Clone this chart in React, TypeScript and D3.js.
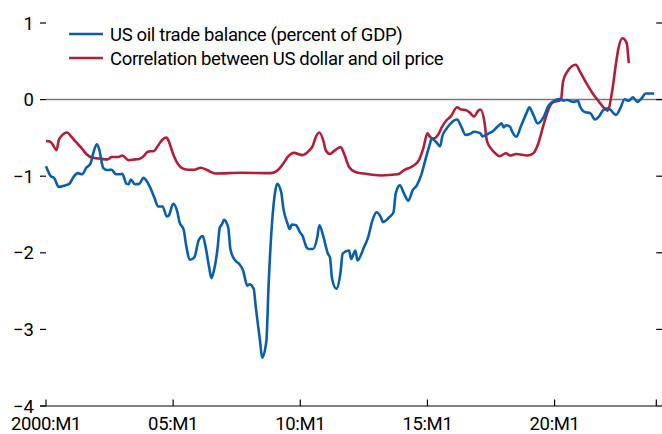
import React from "react";
import * as d3 from "d3";

const W = 662;
const H = 434;

// Months since 2000:M1
const blueMonths = [0,2,4,6,9,11,13,15,17,19,21,22,24,25,27,29,31,33,35,36,38,39,40,42,44,46,47,49,51,53,55,57,58,60,62,63,65,66,68,70,72,74,75,77,78,79,81,82,83,84,86,87,89,91,93,95,96,98,99,101,102,104,105,107,108,109,111,112,114,115,116,118,120,121,123,124,126,128,129,131,133,134,135,137,139,140,143,144,146,147,150,152,154,156,158,159,162,164,165,167,169,171,173,175,177,179,181,182,184,186,187,189,191,194,196,198,200,202,205,206,209,211,213,215,216,217,219,220,222,224,227,228,230,232,235,237,239,243,244,246,249,251,252,254,257,259,261,263,265,266,269,271,273,275,277,279,281,283,287];
const blueValues = [-0.87,-0.99,-1.03,-1.14,-1.12,-1.10,-1.01,-0.96,-0.975,-0.89,-0.835,-0.73,-0.585,-0.64,-0.89,-0.92,-0.915,-0.975,-0.975,-0.97,-1.10,-1.105,-1.045,-1.105,-1.10,-1.02,-1.045,-1.14,-1.27,-1.395,-1.395,-1.525,-1.51,-1.36,-1.47,-1.60,-1.70,-1.88,-2.09,-2.06,-1.84,-1.78,-1.88,-2.19,-2.33,-2.26,-1.93,-1.67,-1.63,-1.57,-1.67,-1.95,-2.09,-2.14,-2.23,-2.43,-2.41,-2.47,-2.71,-3.15,-3.37,-3.15,-2.45,-1.49,-1.23,-1.10,-1.21,-1.42,-1.62,-1.69,-1.63,-1.64,-1.74,-1.775,-1.93,-1.95,-1.95,-1.80,-1.64,-1.80,-2.01,-2.06,-2.34,-2.47,-2.25,-2.01,-1.97,-2.08,-1.97,-2.10,-1.93,-1.80,-1.58,-1.47,-1.535,-1.60,-1.535,-1.47,-1.23,-1.12,-1.23,-1.32,-1.185,-1.12,-0.99,-0.79,-0.595,-0.51,-0.55,-0.61,-0.48,-0.38,-0.31,-0.26,-0.355,-0.46,-0.45,-0.42,-0.44,-0.48,-0.44,-0.41,-0.355,-0.31,-0.365,-0.335,-0.355,-0.42,-0.485,-0.355,-0.16,-0.10,-0.20,-0.31,-0.22,-0.085,-0.03,0.01,-0.015,-0.005,-0.03,-0.015,-0.09,-0.16,-0.18,-0.26,-0.22,-0.135,-0.115,-0.125,-0.20,-0.115,0.005,-0.015,0.03,-0.03,0.015,0.08,0.08];

const redMonths = [0,2,3,5,6,7,10,12,14,17,19,22,25,29,31,34,36,39,42,44,46,48,51,53,55,57,58,60,62,64,67,70,73,76,80,92,106,109,112,114,117,121,124,126,127,129,131,132,134,136,139,141,143,146,150,158,166,169,173,176,178,180,181,183,185,187,189,191,194,196,198,200,202,204,205,207,208,210,212,214,217,219,222,227,230,232,235,237,239,243,244,246,250,252,255,258,261,263,265,267,269,270,272,274,275];
const redValues = [-0.54,-0.55,-0.58,-0.66,-0.53,-0.485,-0.43,-0.485,-0.55,-0.64,-0.71,-0.76,-0.77,-0.78,-0.75,-0.75,-0.73,-0.79,-0.78,-0.775,-0.74,-0.68,-0.67,-0.595,-0.52,-0.495,-0.55,-0.71,-0.83,-0.89,-0.915,-0.915,-0.89,-0.92,-0.965,-0.955,-0.96,-0.93,-0.835,-0.75,-0.695,-0.725,-0.67,-0.595,-0.51,-0.43,-0.55,-0.66,-0.71,-0.67,-0.62,-0.73,-0.88,-0.945,-0.965,-0.99,-0.975,-0.92,-0.87,-0.79,-0.64,-0.44,-0.48,-0.51,-0.46,-0.35,-0.27,-0.22,-0.10,-0.13,-0.135,-0.17,-0.22,-0.145,-0.13,-0.31,-0.53,-0.64,-0.70,-0.74,-0.70,-0.73,-0.71,-0.73,-0.70,-0.595,-0.31,-0.135,-0.04,-0.005,0.235,0.365,0.455,0.365,0.215,0.08,-0.03,-0.10,-0.145,0.08,0.475,0.65,0.80,0.74,0.475];

const xTickMonths = [0, 60, 120, 180, 240, 288];
const xTickLabels = ["2000:M1", "05:M1", "10:M1", "15:M1", "20:M1", ""];
const yTicks = [1, 0, -1, -2, -3, -4];

const seriesNames = [
  "US oil trade balance (percent of GDP)",
  "Correlation between US dollar and oil price",
];

const BLUE = "#0b5ea8";
const RED = "#b01e38";
const FONT = "Roboto, 'Liberation Sans', sans-serif";
const FS = 18.5;
const LS = -0.35;

export default function App() {
  const x = d3.scaleLinear().domain([0, 288]).range([46, 656.3]);
  const y = d3.scaleLinear().domain([-4, 1]).range([406, 23]);
  const line = d3
    .line<[number, number]>()
    .x((d) => x(d[0]))
    .y((d) => y(d[1]))
    .curve(d3.curveMonotoneX);

  const blue = blueMonths.map((m, i) => [m, blueValues[i]] as [number, number]);
  const red = redMonths.map((m, i) => [m, redValues[i]] as [number, number]);

  const fmt = (v: number) => (v < 0 ? "\u2212" + Math.abs(v) : String(v));

  return (
    <div style={{ position: "absolute", left: 0, top: 0 }}>
      <svg width={W} height={H} style={{ display: "block", background: "#fff" }}>
        {/* zero line */}
        <line x1={x(0)} x2={W} y1={y(0)} y2={y(0)} stroke="#7a7a7a" strokeWidth={1.5} />
        {/* y ticks (left with labels, right without) */}
        {yTicks.map((t) => (
          <g key={"yl" + t}>
            <line x1={40} x2={46} y1={y(t)} y2={y(t)} stroke="#000" strokeWidth={1.2} />
            <line x1={656.3} x2={662} y1={y(t)} y2={y(t)} stroke="#000" strokeWidth={1.2} />
            <text
              x={34}
              y={y(t)}
              dy="0.36em"
              textAnchor="end"
              fontFamily={FONT}
              fontSize={FS}
              fill="#000"
            >
              {fmt(t)}
            </text>
          </g>
        ))}
        {/* x axis */}
        <line x1={40} x2={656.3} y1={y(-4)} y2={y(-4)} stroke="#000" strokeWidth={1.2} />
        {xTickMonths.map((m, i) => (
          <g key={"xt" + m}>
            <line x1={x(m)} x2={x(m)} y1={y(-4)} y2={y(-4) - 6.5} stroke="#000" strokeWidth={1.2} />
            {xTickLabels[i] && (
              <text
                x={x(m)}
                y={429.5}
                textAnchor="middle"
                fontFamily={FONT}
                fontSize={FS}
                letterSpacing={LS}
                fill="#000"
              >
                {xTickLabels[i]}
              </text>
            )}
          </g>
        ))}
        {/* series */}
        <path d={line(red) || ""} fill="none" stroke={RED} strokeWidth={2.6} strokeLinejoin="round" />
        <path d={line(blue) || ""} fill="none" stroke={BLUE} strokeWidth={2.6} strokeLinejoin="round" />
        {/* legend */}
        {[BLUE, RED].map((c, i) => (
          <g key={"lg" + i}>
            <line x1={69} x2={103} y1={34 + i * 24} y2={34 + i * 24} stroke={c} strokeWidth={2.6} />
            <text
              x={110}
              y={34 + i * 24}
              dy="0.36em"
              fontFamily={FONT}
              fontSize={FS}
              letterSpacing={LS}
              fill="#000"
            >
              {seriesNames[i]}
            </text>
          </g>
        ))}
      </svg>
    </div>
  );
}
